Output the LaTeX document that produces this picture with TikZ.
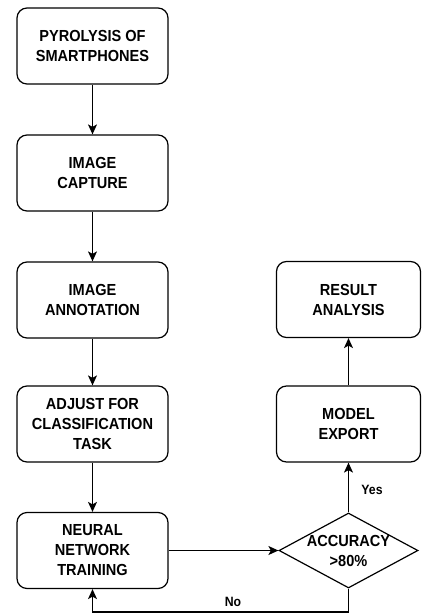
\documentclass[tikz,border=0pt]{standalone}
\usepackage{fontspec}
\setmainfont{Liberation Sans}[FakeStretch=0.91]
\usetikzlibrary{shapes.geometric,arrows.meta}
\begin{document}
\begin{tikzpicture}[x=1pt,y=-1pt,
  stepbox/.style={draw, line width=1.2pt, rounded corners=10pt, minimum width=151pt, minimum height=76pt, align=center, inner sep=0pt, font=\bfseries\fontsize{16}{20}\selectfont},
  rbox/.style={stepbox, minimum width=144pt},
  arr/.style={line width=1.2pt, -{Stealth[length=10pt,width=9pt,inset=2.5pt]}},
  lbl/.style={font=\bfseries\fontsize{13.5}{15}\selectfont}]
\useasboundingbox (0,0) rectangle (421,616);
\node[stepbox] (b1) at (92.5,46) {PYROLYSIS OF\\SMARTPHONES};
\node[stepbox] (b2) at (92.5,173) {IMAGE\\CAPTURE};
\node[stepbox] (b3) at (92.5,300) {IMAGE\\ANNOTATION};
\node[stepbox] (b4) at (92.5,424) {ADJUST FOR\\CLASSIFICATION\\TASK};
\node[stepbox] (b5) at (92.5,550.5) {NEURAL\\NETWORK\\TRAINING};
\node[rbox] (res) at (348.5,299.5) {RESULT\\ANALYSIS};
\node[rbox] (mexp) at (348.5,424) {MODEL\\EXPORT};
\node[diamond, draw, line width=1.2pt, minimum width=139pt, minimum height=75pt, inner sep=0pt] (acc) at (348.5,550.5) {};
\node[align=center, font=\bfseries\fontsize{16}{20}\selectfont] (acct) at (acc) {ACCURACY\\>80\%};
\coordinate (loop) at (348.5,612);
\draw[arr] (b1) -- (b2);
\draw[arr] (b2) -- (b3);
\draw[arr] (b3) -- (b4);
\draw[arr] (b4) -- (b5);
\draw[arr] (b5.east) -- (acc.west);
\draw[arr] (acc.north) -- (mexp.south);
\draw[arr] (mexp.north) -- (res.south);
\draw[arr] (acc.south) -- (loop) -| (b5.south);
\node[lbl] (yes) at (372,490) {Yes};
\node[lbl] (no) at (233,602) {No};
\end{tikzpicture}
\end{document}
